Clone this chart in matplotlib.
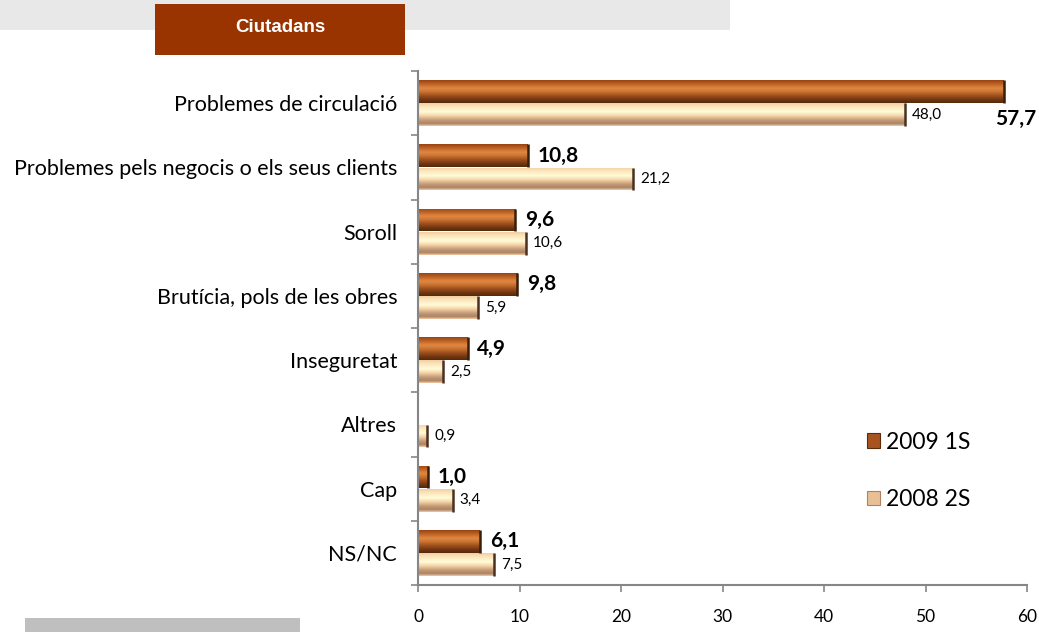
import matplotlib
matplotlib.use("Agg")
import matplotlib.pyplot as plt
import numpy as np
from matplotlib.colors import LinearSegmentedColormap
from matplotlib.patches import Rectangle, Patch

categories = ["Problemes de circulació", "Problemes pels negocis o els seus clients",
              "Soroll", "Brutícia, pols de les obres", "Inseguretat", "Altres", "Cap", "NS/NC"]
s2009 = [57.7, 10.8, 9.6, 9.8, 4.9, None, 1.0, 6.1]
s2008 = [48.0, 21.2, 10.6, 5.9, 2.5, 0.9, 3.4, 7.5]
labels_series = ["2009 1S", "2008 2S"]
xticks = [0, 10, 20, 30, 40, 50, 60]

FONT = ["Lato", "DejaVu Sans"]
plt.rcParams['font.family'] = FONT

W, H = 1039, 632
fig = plt.figure(figsize=(W / 100, H / 100), dpi=100)
fig.patch.set_facecolor("white")

# header decorations
fig.patches.append(Rectangle((0, 1 - 30 / H), 730 / W, 30 / H, transform=fig.transFigure,
                             facecolor="#e8e8e8", edgecolor="none", zorder=0))
fig.patches.append(Rectangle((155 / W, 1 - 55 / H), 250 / W, 51 / H, transform=fig.transFigure,
                             facecolor="#993300", edgecolor="none", zorder=1))
fig.text(280 / W, 1 - 28 / H, "Ciutadans", color="white", fontsize=13.5, fontweight="bold",
         family=["Liberation Sans", "DejaVu Sans"], ha="center", va="center", zorder=2)
fig.patches.append(Rectangle((25 / W, 0), 275 / W, 14 / H, transform=fig.transFigure,
                             facecolor="#bfbfbf", edgecolor="none", zorder=0))

ax = fig.add_axes([418 / W, 1 - 585 / H, (1027 - 418) / W, (585 - 71) / H])

n = len(categories)
ypos = np.arange(n)[::-1].astype(float)
bh = 0.355
off = 0.18

dark_cmap = LinearSegmentedColormap.from_list("dark", [
    (0.0, "#9a4412"), (0.12, "#b45a20"), (0.35, "#e08840"), (0.5, "#cc7434"),
    (0.7, "#9a4c1c"), (0.88, "#6a3410"), (1.0, "#552a0a")])
light_cmap = LinearSegmentedColormap.from_list("light", [
    (0.0, "#f3cfa5"), (0.18, "#fde8bf"), (0.38, "#fffcd8"), (0.55, "#f6d6a8"),
    (0.75, "#c49a78"), (0.9, "#a88464"), (1.0, "#f2c8a0")])

grad = np.linspace(0, 1, 64).reshape(-1, 1)

def draw_series(vals, yoff, cmap, endcol):
    ys, vs = [], []
    for y, v in zip(ypos, vals):
        if v is not None:
            ys.append(y + yoff)
            vs.append(v)
    bars = ax.barh(ys, vs, height=bh, color="none", edgecolor="none", zorder=2)
    for b in bars:
        x0, y0 = b.get_x(), b.get_y()
        w, h = b.get_width(), b.get_height()
        im = ax.imshow(grad, cmap=cmap, extent=(x0, x0 + w, y0, y0 + h), origin="upper",
                       aspect="auto", zorder=2, interpolation="bilinear")
        im.set_clip_path(b)
    ax.vlines(vs, [y - bh / 2 for y in ys], [y + bh / 2 for y in ys], color=endcol, lw=1.8, zorder=3)
    return ys, vs

ys9, vs9 = draw_series(s2009, off, dark_cmap, "#3a1e08")
ys8, vs8 = draw_series(s2008, -off, light_cmap, "#4a3020")

# value labels
for y, v in zip(ys9, vs9):
    txt = f"{v:.1f}".replace(".", ",")
    if v > 50:
        ax.annotate(txt, (v, y - 0.42), xytext=(-6, 0), textcoords="offset points",
                    ha="left", va="center", fontsize=15, fontweight="bold", annotation_clip=False)
    else:
        ax.annotate(txt, (v, y), xytext=(7, 0), textcoords="offset points",
                    ha="left", va="center", fontsize=15, fontweight="bold")
for y, v in zip(ys8, vs8):
    txt = f"{v:.1f}".replace(".", ",")
    ax.annotate(txt, (v, y), xytext=(5, 0), textcoords="offset points",
                ha="left", va="center", fontsize=11)

ax.set_xlim(0, 60)
ax.set_ylim(-0.5, n - 0.5)
ax.set_xticks(xticks)
ax.set_xticklabels([str(t) for t in xticks], fontsize=12.5)
ax.set_yticks(ypos)
ax.set_yticklabels(categories, fontsize=15.5)
ax.set_yticks(np.arange(-0.5, n, 1.0), minor=True)
ax.tick_params(axis="y", which="major", length=0, pad=15)
ax.tick_params(axis="y", which="minor", length=5, color="#868686", width=1.2, direction="out")
ax.tick_params(axis="x", length=5, color="#868686", width=1.2, direction="out", pad=12)
for s in ["top", "right"]:
    ax.spines[s].set_visible(False)
for s in ["left", "bottom"]:
    ax.spines[s].set_color("#868686")
    ax.spines[s].set_linewidth(1.5)

handles = [Patch(facecolor="#a85420", edgecolor="#5a2e0c", lw=0.8),
           Patch(facecolor="#e9c096", edgecolor="#b08060", lw=0.8)]
fig.legend(handles, labels_series, loc="upper left", bbox_to_anchor=(846 / W, 1 - 411 / H),
           frameon=False, fontsize=16.5, handlelength=0.6, handleheight=0.6,
           handletextpad=0.25, labelspacing=1.6)

fig.savefig("out.png", dpi=100, facecolor="white")
